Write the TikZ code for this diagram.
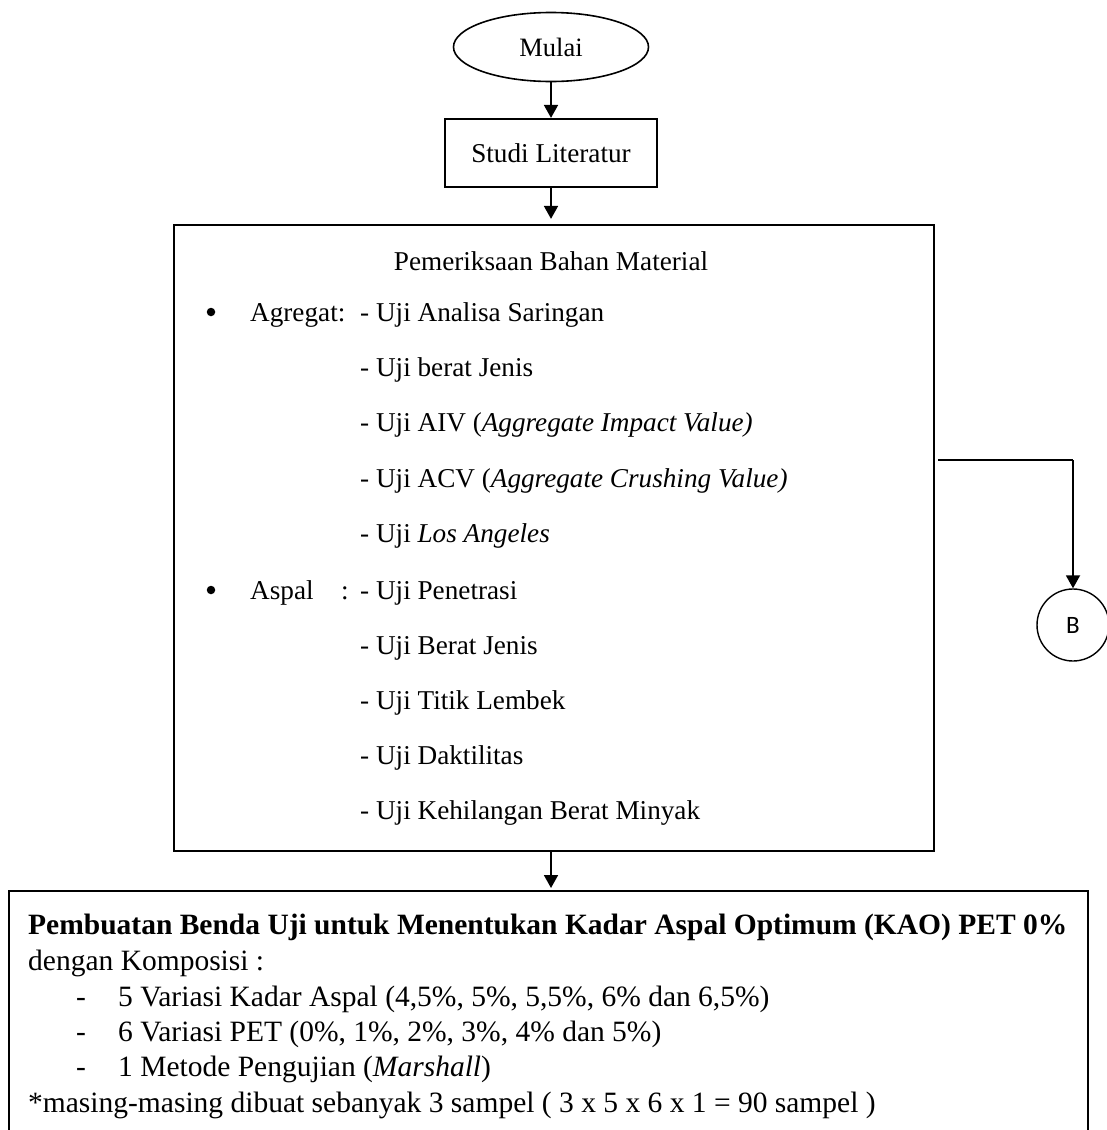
\documentclass[tikz,border=0pt]{standalone}
\usepackage{fontspec}
\setmainfont{Liberation Serif}
\newfontfamily\sansB{Carlito}
\usetikzlibrary{arrows.meta,shapes.geometric}
\begin{document}
\begin{tikzpicture}[x=1pt,y=-1pt,
  box/.style={draw, line width=2.2pt, inner sep=0pt},
  arr/.style={line width=1.8pt, -{Triangle[width=14pt,length=13pt]}},
  mid/.style={font=\fontsize{27.2}{32}\selectfont, anchor=base west, inner sep=0pt},
  lo/.style={font=\fontsize{29.5}{34}\selectfont, anchor=base west, inner sep=0pt},
  dot/.style={circle, fill, inner sep=0pt, minimum size=8.5pt},
]
\useasboundingbox (0,0) rectangle (1107,1130);
\clip (0,0) rectangle (1107,1130);

\node[ellipse, draw, line width=1.6pt, minimum width=195pt, minimum height=69pt, inner sep=0pt,
      font=\fontsize{26.5}{30}\selectfont] (start) at (551,47) {Mulai};
\node[box, minimum width=212pt, minimum height=68pt, font=\fontsize{27.2}{32}\selectfont] (studi) at (551,153) {Studi Literatur};
\node[box, minimum width=760pt, minimum height=626pt] (pem) at (554,538) {};

\node[mid, anchor=base] (t0) at (551,270) {Pemeriksaan Bahan Material};
\node[dot] (bu1) at (211,312) {};
\node[mid] (ag) at (250,321) {Agregat:};
\node[mid] (a1) at (360,321) {- Uji Analisa Saringan};
\node[mid] (a2) at (360,376) {- Uji berat Jenis};
\node[mid] (a3) at (360,431) {- Uji AIV (\textit{Aggregate Impact Value)}};
\node[mid] (a4) at (360,487) {- Uji ACV (\textit{Aggregate Crushing Value)}};
\node[mid] (a5) at (360,542) {- Uji \textit{Los Angeles}};
\node[dot] (bu2) at (211,590) {};
\node[mid] (as) at (250,599) {Aspal};
\node[mid] (co) at (341,599) {:};
\node[mid] (p1) at (360,599) {- Uji Penetrasi};
\node[mid] (p2) at (360,654) {- Uji Berat Jenis};
\node[mid] (p3) at (360,709) {- Uji Titik Lembek};
\node[mid] (p4) at (360,764) {- Uji Daktilitas};
\node[mid] (p5) at (360,819) {- Uji Kehilangan Berat Minyak};

\node[circle, draw, line width=1.4pt, minimum size=72pt, inner sep=0pt,
      font=\sansB\fontsize{25}{28}\selectfont] (B) at (1073,625) {B};
\coordinate (c1) at (938,460);
\coordinate (c2) at (1073,460);

\node[box, minimum width=1079pt, minimum height=270pt, anchor=north west] (bot) at (8,890) {};
\node[lo] (l1) at (28,934) {\textbf{Pembuatan Benda Uji untuk Menentukan Kadar Aspal Optimum (KAO) PET 0\%}};
\node[lo] (l2) at (28,970) {dengan Komposisi :};
\node[lo] (d1) at (76,1006) {-};
\node[lo] (l3) at (118,1006) {5 Variasi Kadar Aspal (4,5\%, 5\%, 5,5\%, 6\% dan 6,5\%)};
\node[lo] (d2) at (76,1041) {-};
\node[lo] (l4) at (118,1041) {6 Variasi PET (0\%, 1\%, 2\%, 3\%, 4\% dan 5\%)};
\node[lo] (d3) at (76,1076) {-};
\node[lo] (l5) at (118,1076) {1 Metode Pengujian (\textit{Marshall})};
\node[lo] (l6) at (28,1112) {*masing-masing dibuat sebanyak 3 sampel ( 3 x 5 x 6 x 1 = 90 sampel )};

\draw[arr] (start.south) -- (studi.north);
\draw[arr, shorten >=5pt] (studi.south) -- (studi.south |- pem.north);
\draw[arr, shorten >=2pt] (studi.south |- pem.south) -- (studi.south |- bot.north);
\draw[line width=1.2pt] (c1) -- (c2);
\draw[arr] (c2) -- (B.north);
\end{tikzpicture}
\end{document}
